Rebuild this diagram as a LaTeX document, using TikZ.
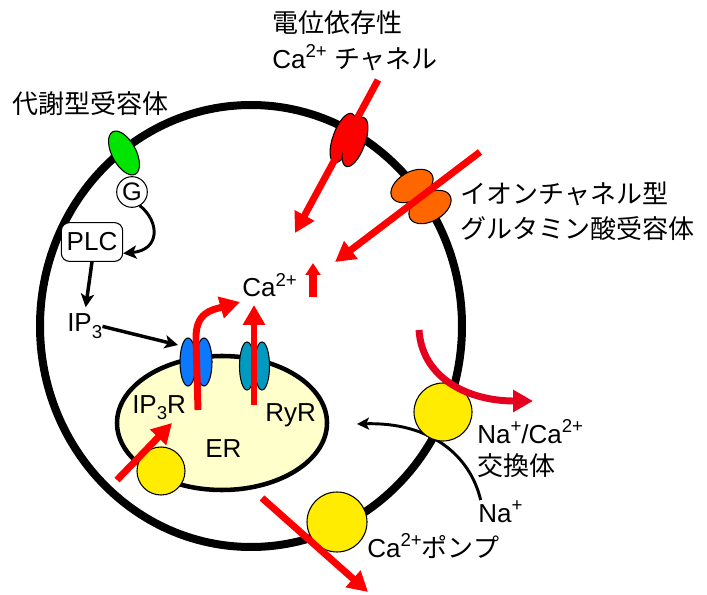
\documentclass[tikz,border=0pt]{standalone}
\usepackage{fontspec}
\setmainfont{Liberation Sans}
\newfontfamily\jp{Noto Sans CJK JP}
\usetikzlibrary{arrows.meta}

\definecolor{ercol}{RGB}{255,255,204}
\definecolor{pumpcol}{RGB}{255,236,0}
\definecolor{ipcol}{RGB}{10,120,255}
\definecolor{rycol}{RGB}{0,153,192}
\definecolor{glucol}{RGB}{255,102,0}
\definecolor{gpcol}{RGB}{0,228,0}
\definecolor{ncxred}{RGB}{228,0,30}

% ion charges and indices at a fixed size
\newcommand{\chg}[1]{\raisebox{0.42em}{\fontsize{14}{14}\selectfont#1}}
\newcommand{\idx}[1]{\raisebox{-0.25em}{\fontsize{14}{14}\selectfont#1}}

\tikzset{
  flux/.style={red, line width=5.2pt, -{Triangle[length=15pt,width=16pt]}},
  sig/.style={line width=2.6pt, -{Stealth[length=10pt,width=10pt,inset=2.5pt]}},
  txt/.style={font=\fontsize{19.5}{27}\selectfont, inner sep=0pt},
  part/.style={line width=0.8pt},
}

\begin{document}
\begin{tikzpicture}[x=0.75pt,y=-0.75pt]
\useasboundingbox (0,0) rectangle (707,595);

% cell and ER
\draw[line width=6pt] (251,326) ellipse [x radius=211, y radius=221];
\draw[line width=3.4pt, fill=ercol] (222,423) ellipse [x radius=105, y radius=67];

% channels in the plasma membrane
\filldraw[part, fill=gpcol, rotate around={28:(124,153)}] (124,153) ellipse [x radius=12, y radius=24];
\foreach \x/\y in {343/138,355/142}
  \filldraw[part, fill=red, rotate around={-20:(\x,\y)}] (\x,\y) ellipse [x radius=10, y radius=26];
\foreach \x/\y in {412/186,430/207}
  \filldraw[part, fill=glucol, rotate around={30:(\x,\y)}] (\x,\y) ellipse [x radius=23, y radius=14];

% IP3R and RyR on the ER
\foreach \x in {188,204}
  \filldraw[part, fill=ipcol] (\x,362) ellipse [x radius=8, y radius=24];
\foreach \x in {247,262}
  \filldraw[part, fill=rycol] (\x,366) ellipse [x radius=7.5, y radius=24];

% labels
\node[txt, anchor=west, align=left] (vgcc) at (272,41)
  {{\jp 電位依存性}\\Ca\chg{2+} {\jp チャネル}};
\node[txt, anchor=west, align=left, font=\fontsize{19.5}{26}\selectfont] (iglu) at (460,211)
  {{\jp イオンチャネル型}\\{\jp グルタミン酸受容体}};
\node[txt, anchor=base west] (mglu) at (12,114) {\jp 代謝型受容体};
\node[txt, anchor=base west] (cai) at (242,297) {Ca\chg{2+}};
\node[txt, anchor=base west] (IP3) at (67,332) {IP\idx{3}};
\node[txt, anchor=base west] (ip3rl) at (132,413) {IP\idx{3}R};
\node[txt, anchor=base west] (er) at (205,457) {ER};
\node[txt, anchor=base west] (ryr) at (265,421) {RyR};
\node[txt, anchor=west, align=left, font=\fontsize{19.5}{24}\selectfont] (ncxl) at (477,449)
  {Na\chg{+}/Ca\chg{2+}\\{\jp 交換体}};
\node[txt, anchor=base west] (Na) at (478,522) {Na\chg{+}};
\node[txt, anchor=base west] (pumpl) at (367,557) {Ca\chg{2+}{\jp ポンプ}};

% Gq signalling
\node[draw, part, circle, fill=white, inner sep=0pt, minimum size=23pt,
      font=\fontsize{19}{19}\selectfont] (G) at (132,192) {G};
\node[draw, part, rounded corners=6pt, fill=white, minimum width=46pt, minimum height=29pt,
      inner sep=0pt, font=\fontsize{19.5}{19.5}\selectfont] (PLC) at (92,242) {PLC};
\coordinate (ip3rin) at (178,345);
\draw[sig, line width=2.2pt] (G.-60) .. controls (160,222) and (160,250) .. (PLC.-20);
\draw[sig, shorten >=5pt] (PLC.south) -- (IP3.north);
\draw[sig] (IP3.east) -- (ip3rin);

% exchanger and pumps
\coordinate (naend) at (357,424);
\draw[line width=2.2pt, -{Stealth[length=9pt,width=9pt,inset=2pt]}]
  ([xshift=2pt]Na.north west) .. controls (470,455) and (430,422) .. (naend);
\filldraw[part, fill=pumpcol] (443,412) circle [radius=29];
\filldraw[part, fill=pumpcol] (337,522) circle [radius=30];
\filldraw[part, fill=pumpcol] (161,471) circle [radius=24];

% Ca2+ fluxes
\draw[flux] (378,80) -- (295,233);
\draw[flux] (480,152) -- (335,262);
\draw[red, line width=5.5pt, -{Triangle[length=9pt,width=11pt]}] (313,297) -- (313,263);
\draw[flux] (198,410) -- (196,340) .. controls (195,312) and (212,310) .. (240,302);
\draw[flux] (254,405) -- (254,305);
\draw[flux] (117,480) -- (172,423);
\draw[flux] (262,498) -- (368,592);
\draw[flux, ncxred] (419,330) .. controls (422,378) and (468,401) .. (533,401);

\end{tikzpicture}
\end{document}
